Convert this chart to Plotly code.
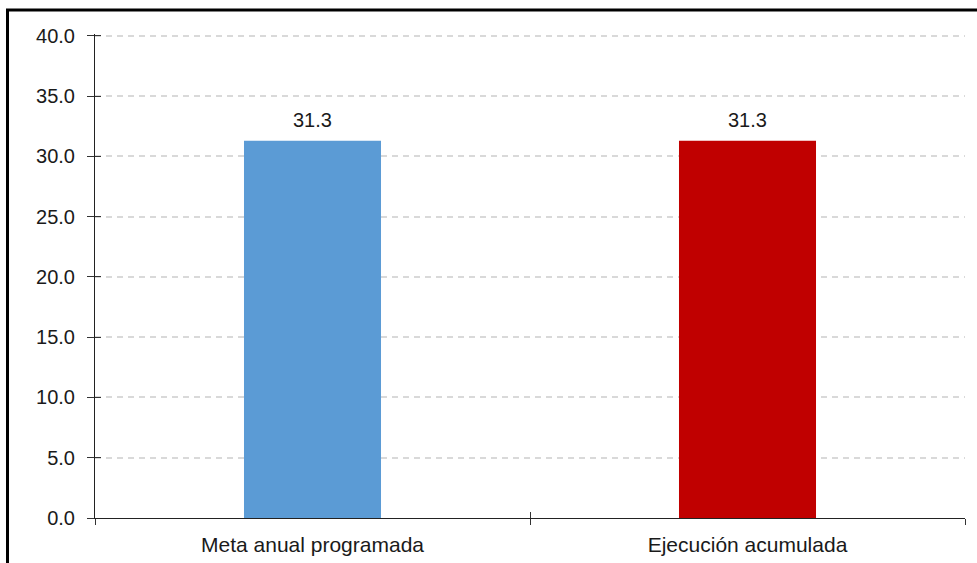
import plotly.graph_objects as go

categories = ["Meta anual programada", "Ejecución acumulada"]
values = [31.3, 31.3]
colors = ["#5B9BD5", "#C00000"]
labels = ["31.3", "31.3"]

W, H = 977, 563
L, R, T, B = 95, 12, 34, 45
pw, ph = W - L - R, H - T - B

fig = go.Figure()
fig.add_trace(go.Bar(
    x=categories, y=values, marker=dict(color=colors, line=dict(width=0)),
    hoverinfo="skip", showlegend=False,
))
fig.add_trace(go.Bar(
    x=categories, y=values, xaxis="x2", yaxis="y2", opacity=0,
    hoverinfo="skip", showlegend=False,
))

for c, v, t in zip(categories, values, labels):
    fig.add_annotation(x=c, y=v, text=t, showarrow=False, yanchor="bottom",
                       yshift=8, font=dict(family="Liberation Sans, Arial",
                                           size=20, color="#1a1a1a"))

font = dict(family="Liberation Sans, Arial", size=20, color="#1a1a1a")
catfont = dict(family="Liberation Sans, Arial", size=21, color="#1a1a1a")
fig.update_layout(
    width=W, height=H,
    margin=dict(l=L, r=R, t=T, b=B, pad=0, autoexpand=False),
    paper_bgcolor="white", plot_bgcolor="white",
    bargap=0.685,
    font=font,
    xaxis=dict(type="category", tickson="boundaries", ticks="outside", ticklen=6,
               tickcolor="#333", tickwidth=1, showline=True, linecolor="#222",
               linewidth=1, showgrid=False, tickfont=catfont, range=[-0.5, 1.5],
               ticklabelstandoff=8, automargin=False),
    xaxis2=dict(type="category", overlaying="x", tickson="boundaries", ticks="inside",
                ticklen=6, tickcolor="#333", tickwidth=1, showticklabels=False,
                showgrid=False, showline=False, side="bottom", range=[-0.5, 1.5],
                automargin=False),
    yaxis=dict(range=[0, 40.15], dtick=5, tickformat=".1f", ticks="outside", ticklen=7,
               tickcolor="#333", tickwidth=1, showline=True, linecolor="#222",
               linewidth=1, showgrid=True, gridcolor="#d9d9d9", gridwidth=2,
               griddash="6px,5px", zeroline=False, tickfont=font,
               ticklabelstandoff=8, automargin=False),
    yaxis2=dict(range=[0, 40.15], dtick=5, overlaying="y", ticks="inside", ticklen=6,
                tickcolor="#333", tickwidth=1, showticklabels=False, showgrid=False,
                showline=False, zeroline=False, side="left", automargin=False),
    shapes=[dict(type="rect", xref="paper", yref="paper",
                 x0=(7.5 - L) / pw, x1=1.2, y0=-0.3, y1=1 + (T - 10) / ph,
                 line=dict(color="black", width=3), fillcolor="rgba(0,0,0,0)",
                 layer="above")],
)

fig.write_html("out.html", config={"displayModeBar": False},
               post_script="document.body.style.margin='0px';")
